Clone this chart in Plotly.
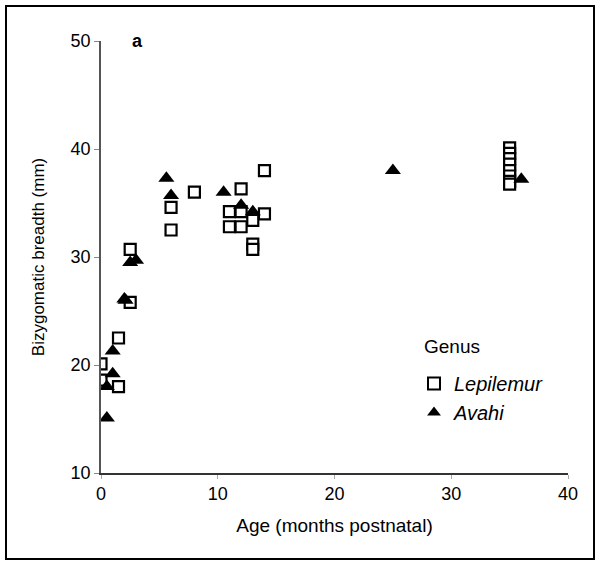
import plotly.graph_objects as go

# Lepilemur (open squares)
lep_age = [0, 0, 1.5, 1.5, 2.5, 2.5, 6, 6, 8, 11, 11, 12, 12, 12, 13, 13, 13, 14, 14,
           35, 35, 35, 35, 35, 35, 35, 35]
lep_bzb = [20.1, 18.6, 22.5, 18.0, 30.7, 25.8, 34.6, 32.5, 36.0, 34.2, 32.8, 36.3, 34.2, 32.8,
           33.4, 31.2, 30.7, 38.0, 34.0,
           40.1, 39.6, 39.1, 38.6, 38.0, 37.5, 37.0, 36.75]

# Avahi (filled triangles)
ava_age = [0.5, 0.5, 1, 1, 2, 2.1, 2.5, 3, 5.6, 6, 10.5, 12, 13, 25, 36]
ava_bzb = [15.1, 18.0, 19.2, 21.3, 26.1, 26.0, 29.5, 29.7, 37.3, 35.7, 36.0, 34.8, 34.2, 38.0, 37.2]

x_ticks = [0, 10, 20, 30, 40]
y_ticks = [10, 20, 30, 40, 50]

FONT = "Liberation Sans, Arial, Helvetica, sans-serif"

fig = go.Figure()
fig.add_trace(go.Scatter(
    x=lep_age, y=lep_bzb, mode="markers", name="<i>Lepilemur</i>", legendgroup="a",
    marker=dict(symbol="square", size=11, color="white",
                line=dict(color="black", width=2.2)),
))
fig.add_trace(go.Scatter(
    x=ava_age, y=ava_bzb, mode="markers", name="<i>Avahi</i>", legendgroup="b",
    marker=dict(symbol="triangle-up", size=14, color="black",
                line=dict(color="black", width=0)),
))

W, H = 599, 564
L, R, T, B = 101, 31, 41, 91
pw, ph = W - L - R, H - T - B

def px(xp):
    return (xp - L) / pw

def py(yp):
    return (H - B - yp) / ph

fig.update_layout(
    width=W, height=H,
    margin=dict(l=L, r=R, t=T, b=B),
    paper_bgcolor="white", plot_bgcolor="white",
    font=dict(family=FONT, size=18, color="black"),
    showlegend=True,
    legend=dict(
        x=px(414), y=py(364), xanchor="left", yanchor="top",
        bgcolor="rgba(0,0,0,0)", font=dict(size=20),
        itemsizing="constant", tracegroupgap=0,
    ),
    xaxis=dict(
        range=[0, 40], tickvals=x_ticks, ticktext=[str(v) for v in x_ticks],
        showgrid=False, zeroline=False, showline=True, linecolor="#333", linewidth=1.5,
        ticks="outside", ticklen=4, tickcolor="#aaa", tickwidth=1,
        title=dict(text="Age (months postnatal)", font=dict(size=19), standoff=15),
        tickfont=dict(size=18),
    ),
    yaxis=dict(
        range=[10, 50], tickvals=y_ticks, ticktext=[str(v) for v in y_ticks],
        showgrid=False, zeroline=False, showline=True, linecolor="#555", linewidth=1.5,
        ticks="outside", ticklen=5, tickcolor="#888", tickwidth=1,
        title=dict(text="Bizygomatic breadth (mm)", font=dict(size=17), standoff=22),
        tickfont=dict(size=18),
    ),
    annotations=[
        dict(text="<b>a</b>", xref="paper", yref="paper", x=px(130), y=py(41),
             xanchor="left", yanchor="middle", showarrow=False, font=dict(size=18)),
        dict(text="Genus", xref="paper", yref="paper", x=px(422), y=py(347),
             xanchor="left", yanchor="middle", showarrow=False, font=dict(size=19)),
    ],
    shapes=[dict(
        type="rect", xref="paper", yref="paper",
        x0=px(6), x1=px(594), y0=py(559), y1=py(6),
        line=dict(color="black", width=2), fillcolor="rgba(0,0,0,0)", layer="below",
    )],
)

fig.write_html("out.html", config={"displayModeBar": False},
               post_script="document.body.style.margin='0px';")
